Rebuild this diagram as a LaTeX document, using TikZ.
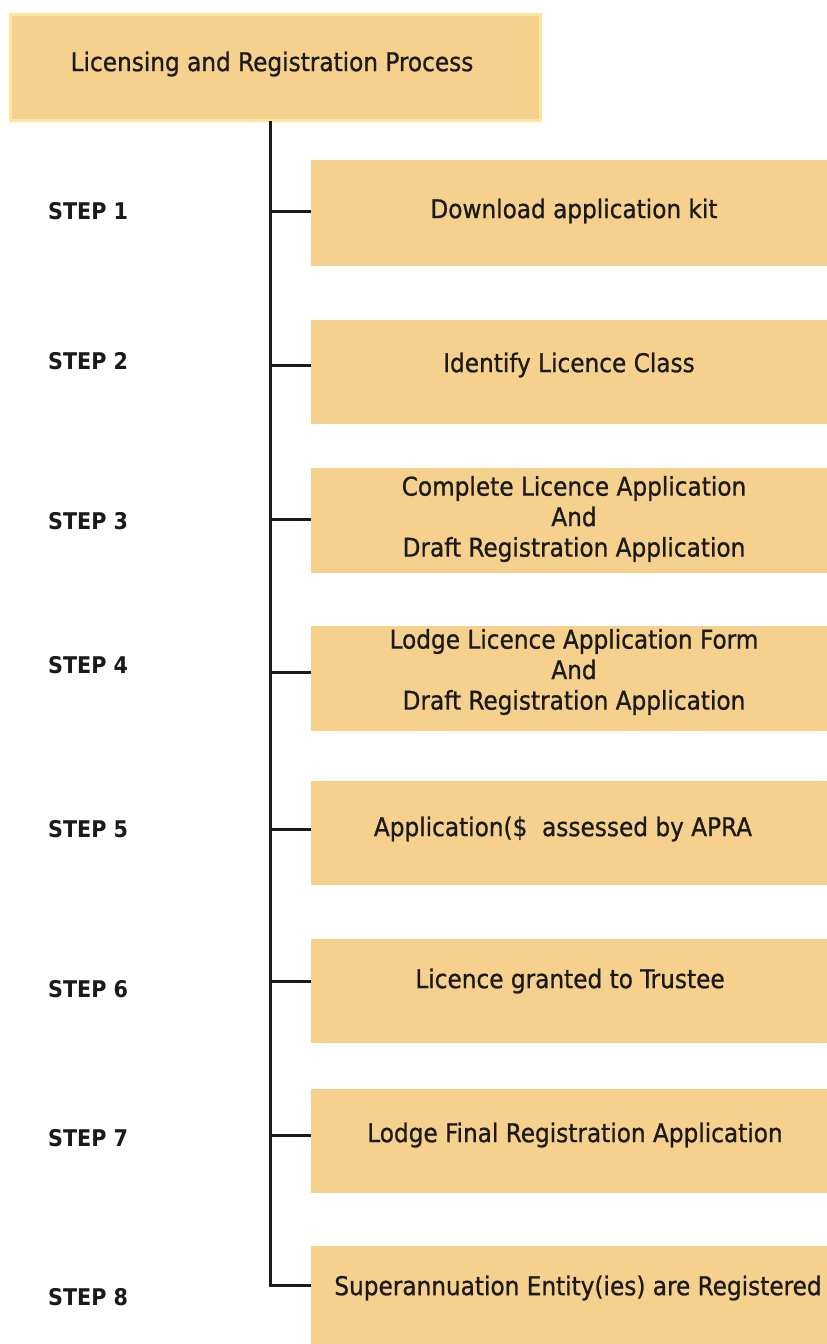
\documentclass[tikz,border=0pt]{standalone}
\usepackage{fontspec}
\setmainfont{DejaVu Sans}
\newfontfamily\condfont[FakeBold=0.9]{DejaVu Sans Condensed}
\newfontfamily\condbold{DejaVu Sans Condensed Bold}
\definecolor{boxfill}{RGB}{246,209,142}
\definecolor{boxedge}{RGB}{251,230,160}
\definecolor{ink}{RGB}{28,26,24}
\tikzset{
  stepbox/.style={fill=boxfill, draw=none, inner sep=0pt, anchor=north west,
    minimum width=530pt},
  boxtext/.style={font=\fontsize{25.8}{30.5}\selectfont\condfont, text=ink, align=center, inner sep=0pt},
  steplabel/.style={anchor=west, font=\fontsize{23}{26}\selectfont\condbold, text=ink, inner sep=0pt},
  trunk/.style={draw=ink, line width=3pt},
}
\begin{document}
\begin{tikzpicture}[x=1pt,y=-1pt]
\useasboundingbox (0,0) rectangle (827,1344);
\fill[white] (0,0) rectangle (827,1344);

% title box
\node[fill=boxfill, draw=boxedge, line width=3pt, anchor=north west, minimum width=530pt, minimum height=106pt,
  inner sep=0pt] (title) at (9,13) {};
\node[boxtext] (titletext) at (272,64) {Licensing and Registration Process};

% step boxes (top edge, height)
\node[stepbox, minimum height=106pt] (b1) at (311,160) {};
\node[stepbox, minimum height=104pt] (b2) at (311,320) {};
\node[stepbox, minimum height=105pt] (b3) at (311,468) {};
\node[stepbox, minimum height=105pt] (b4) at (311,626) {};
\node[stepbox, minimum height=104pt] (b5) at (311,781) {};
\node[stepbox, minimum height=104pt] (b6) at (311,939) {};
\node[stepbox, minimum height=104pt] (b7) at (311,1089) {};
\node[stepbox, minimum height=100pt] (b8) at (311,1246) {};

% box texts
\node[boxtext] (t1) at (574,211) {Download application kit};
\node[boxtext] (t2) at (569,365) {Identify Licence Class};
\node[boxtext] (t3) at (574,519) {Complete Licence Application\\And\\ Draft Registration Application};
\node[boxtext] (t4) at (574,672) {Lodge Licence Application Form\\And\\ Draft Registration Application};
\node[boxtext] (t5) at (563,829) {Application(\$\ \ assessed by APRA};
\node[boxtext] (t6) at (570,981) {Licence granted to Trustee};
\node[boxtext] (t7) at (575,1135) {Lodge Final Registration Application};
\node[boxtext] (t8) at (578,1288) {Superannuation Entity(ies) are Registered};

% step labels
\node[steplabel] (s1) at (48,211) {STEP 1};
\node[steplabel] (s2) at (48,361) {STEP 2};
\node[steplabel] (s3) at (48,521) {STEP 3};
\node[steplabel] (s4) at (48,665) {STEP 4};
\node[steplabel] (s5) at (48,829) {STEP 5};
\node[steplabel] (s6) at (48,989) {STEP 6};
\node[steplabel] (s7) at (48,1138) {STEP 7};
\node[steplabel] (s8) at (48,1297) {STEP 8};

% trunk and branches
\coordinate (top) at (270,121);
\coordinate (bend) at (270,1285);
\draw[trunk, line join=miter] (top) -- (bend) -- (b8.west |- bend);
\foreach \b/\yy in {b1/211,b2/365,b3/519,b4/672,b5/829,b6/981,b7/1135}
  \draw[trunk] (270,\yy) -- (\b.west |- 0,\yy);
\end{tikzpicture}
\end{document}
